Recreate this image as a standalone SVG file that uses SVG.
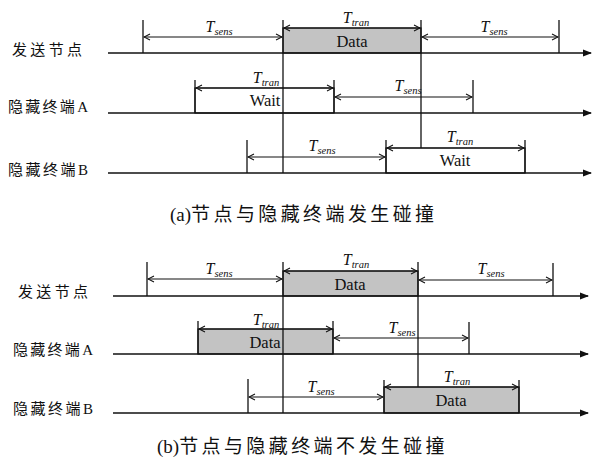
<svg xmlns="http://www.w3.org/2000/svg" width="592" height="461" viewBox="0 0 592 461">
<style>
.ln{stroke:#111;stroke-width:1.3;fill:none}
.dim{stroke:#111;stroke-width:1.1;fill:none;marker-start:url(#v);marker-end:url(#v)}
.ax{stroke:#111;stroke-width:1.4;fill:none;marker-end:url(#tri)}
.data{fill:#c3c3c3;stroke:#111;stroke-width:1.2}
.wait{fill:#fff;stroke:#111;stroke-width:1.2}
.t{font-family:"Liberation Serif",serif;font-style:italic;font-size:16px;fill:#111;text-anchor:middle}
.s{font-size:10.5px}
.bx{font-family:"Liberation Serif",serif;font-size:16.5px;fill:#111;text-anchor:middle}
.lb{font-family:"Liberation Serif","Noto Sans CJK SC",serif;font-size:15px;fill:#111}
.cap{font-family:"Liberation Serif","Noto Sans CJK SC",serif;font-size:19px;fill:#111}
.cj{letter-spacing:3.4px}
</style>
<defs>
<marker id="v" viewBox="-8 -4 9 8" refX="0" refY="0" markerWidth="9" markerHeight="8" markerUnits="userSpaceOnUse" orient="auto-start-reverse"><path d="M-6,-3 L0,0 L-6,3" fill="none" stroke="#111" stroke-width="1.1"/></marker>
<marker id="tri" viewBox="0 -4 9 8" refX="8" refY="0" markerWidth="9" markerHeight="8" markerUnits="userSpaceOnUse" orient="auto"><path d="M0,-3.5 L9,0 L0,3.5 Z" fill="#111"/></marker>
</defs>

<g id="labels">
<text class="lb" x="12" y="55" textLength="70" lengthAdjust="spacing">发送节点</text>
<text class="lb" x="8" y="112" textLength="80" lengthAdjust="spacing">隐藏终端A</text>
<text class="lb" x="8" y="175" textLength="80" lengthAdjust="spacing">隐藏终端B</text>
<text class="cap" x="170" y="221">(a)<tspan class="cj">节点与隐藏终端发生碰撞</tspan></text>
<text class="lb" x="18" y="297" textLength="70" lengthAdjust="spacing">发送节点</text>
<text class="lb" x="13" y="355" textLength="80" lengthAdjust="spacing">隐藏终端A</text>
<text class="lb" x="13" y="414" textLength="80" lengthAdjust="spacing">隐藏终端B</text>
<text class="cap" x="157" y="453">(b)<tspan class="cj">节点与隐藏终端不发生碰撞</tspan></text>
</g>

<g id="node-a-boxes">
<rect id="a-data" class="data" x="283" y="28" width="138" height="25"/>
<text class="bx" x="352" y="47">Data</text>
<rect id="a-waitA" class="wait" x="195" y="88" width="139" height="25"/>
<text class="bx" x="265" y="106">Wait</text>
<rect id="a-waitB" class="wait" x="386" y="148" width="139" height="25"/>
<text class="bx" x="455" y="166">Wait</text>
</g>

<g id="node-b-boxes">
<rect id="b-data" class="data" x="283" y="271" width="135" height="25"/>
<text class="bx" x="350" y="290">Data</text>
<rect id="b-dataA" class="data" x="198" y="329" width="135" height="25"/>
<text class="bx" x="265" y="348">Data</text>
<rect id="b-dataB" class="data" x="384" y="387" width="135" height="26"/>
<text class="bx" x="451" y="406">Data</text>
</g>

<g id="connectors">
<line class="ax" x1="108" y1="53" x2="591" y2="53"/>
<line class="ax" x1="108" y1="113" x2="591" y2="113"/>
<line class="ax" x1="108" y1="173" x2="591" y2="173"/>
<line class="ln" x1="143" y1="20" x2="143" y2="53"/>
<line class="ln" x1="283" y1="20" x2="283" y2="173"/>
<line class="ln" x1="421" y1="20" x2="421" y2="148"/>
<line class="ln" x1="559" y1="20" x2="559" y2="53"/>
<line class="ln" x1="195" y1="80" x2="195" y2="113"/>
<line class="ln" x1="334" y1="80" x2="334" y2="113"/>
<line class="ln" x1="473" y1="80" x2="473" y2="113"/>
<line class="ln" x1="247" y1="140" x2="247" y2="173"/>
<line class="ln" x1="386" y1="140" x2="386" y2="173"/>
<line class="ln" x1="525" y1="140" x2="525" y2="173"/>
<line class="dim" x1="144" y1="37" x2="282" y2="37"/>
<line class="dim" x1="284" y1="28" x2="420" y2="28"/>
<line class="dim" x1="422" y1="37" x2="558" y2="37"/>
<line class="dim" x1="196" y1="88" x2="333" y2="88"/>
<line class="dim" x1="335" y1="97" x2="472" y2="97"/>
<line class="dim" x1="248" y1="157" x2="385" y2="157"/>
<line class="dim" x1="387" y1="148" x2="524" y2="148"/>

<line class="ax" x1="113" y1="296" x2="588" y2="296"/>
<line class="ax" x1="113" y1="354" x2="588" y2="354"/>
<line class="ax" x1="113" y1="413" x2="588" y2="413"/>
<line class="ln" x1="147" y1="262" x2="147" y2="296"/>
<line class="ln" x1="283" y1="262" x2="283" y2="413"/>
<line class="ln" x1="418" y1="262" x2="418" y2="387"/>
<line class="ln" x1="553" y1="263" x2="553" y2="296"/>
<line class="ln" x1="198" y1="321" x2="198" y2="354"/>
<line class="ln" x1="333" y1="321" x2="333" y2="354"/>
<line class="ln" x1="469" y1="322" x2="469" y2="354"/>
<line class="ln" x1="248" y1="379" x2="248" y2="413"/>
<line class="ln" x1="384" y1="380" x2="384" y2="413"/>
<line class="ln" x1="519" y1="380" x2="519" y2="413"/>
<line class="dim" x1="148" y1="279" x2="282" y2="279"/>
<line class="dim" x1="284" y1="271" x2="417" y2="271"/>
<line class="dim" x1="419" y1="280" x2="552" y2="280"/>
<line class="dim" x1="199" y1="329" x2="332" y2="329"/>
<line class="dim" x1="334" y1="338" x2="468" y2="338"/>
<line class="dim" x1="249" y1="397" x2="383" y2="397"/>
<line class="dim" x1="385" y1="387" x2="518" y2="387"/>
</g>

<g id="dim-labels">
<text class="t" x="219" y="32">T<tspan class="s" dy="3">sens</tspan></text>
<text class="t" x="356" y="23">T<tspan class="s" dy="3">tran</tspan></text>
<text class="t" x="494" y="32">T<tspan class="s" dy="3">sens</tspan></text>
<text class="t" x="266" y="83">T<tspan class="s" dy="3">tran</tspan></text>
<text class="t" x="408" y="91">T<tspan class="s" dy="3">sens</tspan></text>
<text class="t" x="322" y="151">T<tspan class="s" dy="3">sens</tspan></text>
<text class="t" x="460" y="142">T<tspan class="s" dy="3">tran</tspan></text>

<text class="t" x="219" y="274">T<tspan class="s" dy="3">sens</tspan></text>
<text class="t" x="356" y="265">T<tspan class="s" dy="3">tran</tspan></text>
<text class="t" x="491" y="274">T<tspan class="s" dy="3">sens</tspan></text>
<text class="t" x="266" y="325">T<tspan class="s" dy="3">tran</tspan></text>
<text class="t" x="402" y="333">T<tspan class="s" dy="3">sens</tspan></text>
<text class="t" x="321" y="392">T<tspan class="s" dy="3">sens</tspan></text>
<text class="t" x="457" y="382">T<tspan class="s" dy="3">tran</tspan></text>
</g>
</svg>
